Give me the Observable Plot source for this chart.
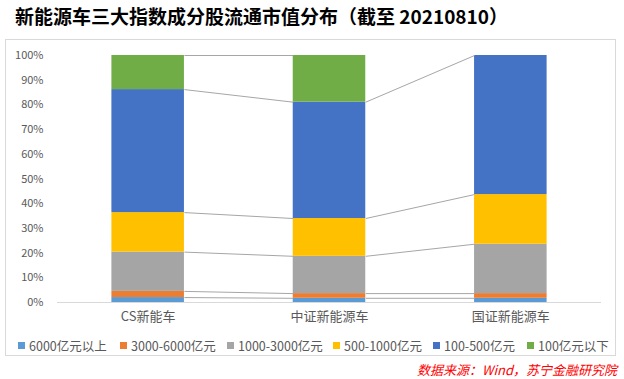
<!DOCTYPE html>
<html>
<head>
<meta charset="utf-8">
<script src="https://cdn.jsdelivr.net/npm/d3@7"></script>
<script src="https://cdn.jsdelivr.net/npm/@observablehq/plot@0.6"></script>
<style>
  html, body { margin: 0; padding: 0; background: #fff; }
  #page { position: relative; width: 624px; height: 379px; overflow: hidden; font-family: "Noto Sans CJK SC", "Noto Sans", sans-serif; }
  #title { position: absolute; left: 15px; top: 2px; font-size: 19px; font-weight: bold; color: #000; white-space: nowrap; letter-spacing: 0px; }
  #box { position: absolute; left: 5px; top: 39px; width: 611px; height: 317px; border: 1px solid #d9d9d9; box-sizing: border-box; }
  #chart { position: absolute; left: 5px; top: 39px; }
  #legend { position: absolute; left: 0; top: 336px; width: 624px; height: 18px; font-size: 12.5px; color: #595959; }
  .item { position: absolute; top: 0; display: flex; align-items: center; white-space: nowrap; height: 18px; }
  .sw { width: 7px; height: 7px; margin-right: 4px; }
  #source { position: absolute; right: 7px; top: 360px; font-size: 13px; color: #ff0000; font-style: italic; white-space: nowrap; }
  [aria-label^="x-axis"] text { font-size: 13px; }
</style>
</head>
<body>
<div id="page">
  <div id="title">新能源车三大指数成分股流通市值分布（截至 20210810）</div>
  <div id="box"></div>
  <div id="chart"></div>
  <div id="legend"></div>
  <div id="source">数据来源：Wind，苏宁金融研究院</div>
</div>
<script>
const categories = ["CS新能车", "中证新能源车", "国证新能源车"];
const seriesNames = ["6000亿元以上", "3000-6000亿元", "1000-3000亿元", "500-1000亿元", "100-500亿元", "100亿元以下"];
const seriesColors = ["#5B9BD5", "#ED7D31", "#A5A5A5", "#FFC000", "#4472C4", "#70AD47"];
const yTicks = [0, 10, 20, 30, 40, 50, 60, 70, 80, 90, 100];

// share (%) of each bucket per index
const over6000 = [2.0, 1.7, 1.7];
const from3000to6000 = [2.5, 1.9, 1.9];
const from1000to3000 = [15.9, 15.1, 20.0];
const from500to1000 = [16.0, 15.3, 20.1];
const from100to500 = [49.8, 47.1, 56.3];
const under100 = [13.8, 18.9, 0];

const seriesValues = [over6000, from3000to6000, from1000to3000, from500to1000, from100to500, under100];

const halfBar = 0.2;
const rows = [];
categories.forEach((c, i) => {
  let cum = 0;
  seriesValues.forEach((vals, j) => {
    const v = vals[i];
    rows.push({i, j, y1: cum, y2: cum + v, v});
    cum += v;
  });
});

const links = [];
for (let i = 0; i < categories.length - 1; i++) {
  seriesValues.forEach((vals, j) => {
    const a = rows.find(r => r.i === i && r.j === j);
    const b = rows.find(r => r.i === i + 1 && r.j === j);
    if (a.v > 0 && b.v > 0) links.push({x1: i + halfBar, x2: i + 1 - halfBar, y1: a.y2, y2: b.y2});
  });
}

const chart = Plot.plot({
  width: 611,
  height: 291,
  marginLeft: 52,
  marginRight: 15,
  marginTop: 16,
  marginBottom: 28,
  style: {fontFamily: "'Noto Sans CJK SC', 'Noto Sans', sans-serif", fontSize: "11px", color: "#595959", background: "transparent"},
  x: {type: "linear", domain: [-0.5, 2.5], ticks: [0, 1, 2], tickFormat: i => categories[i], tickSize: 0, tickPadding: 9, label: null},
  y: {domain: [0, 100], ticks: yTicks, tickFormat: d => d + "%", tickSize: 0, tickPadding: 14, label: null},
  marks: [
    Plot.rectY(rows.filter(r => r.v > 0), {
      x1: r => r.i - halfBar, x2: r => r.i + halfBar, y1: "y1", y2: "y2",
      fill: r => seriesColors[r.j]
    }),
    Plot.link(links, {x1: "x1", x2: "x2", y1: "y1", y2: "y2", stroke: "#a6a6a6", strokeWidth: 1}),
    Plot.ruleY([0], {stroke: "#d9d9d9", strokeWidth: 1})
  ]
});
document.getElementById("chart").appendChild(chart);

const legendX = [18, 120, 227, 333, 433, 527];
const legend = document.getElementById("legend");
seriesNames.forEach((n, j) => {
  const it = document.createElement("div");
  it.className = "item";
  it.style.left = legendX[j] + "px";
  it.innerHTML = `<span class="sw" style="background:${seriesColors[j]}"></span><span>${n}</span>`;
  legend.appendChild(it);
});
</script>
</body>
</html>
